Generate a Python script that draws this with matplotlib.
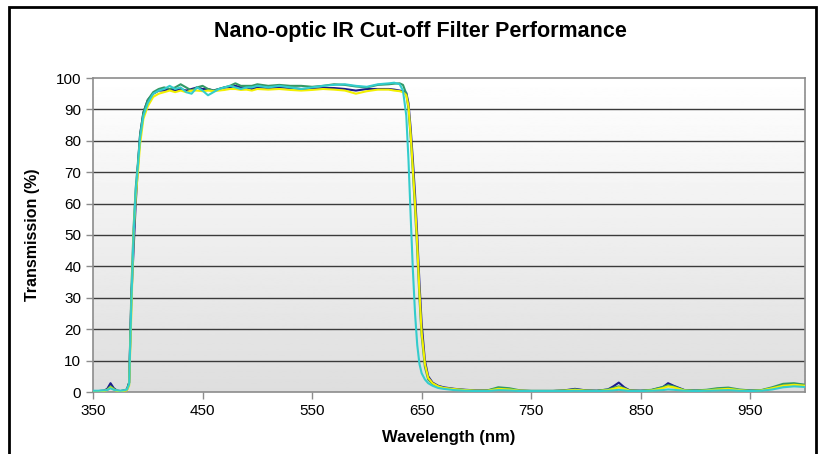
import matplotlib.pyplot as plt
import numpy as np
from matplotlib.patches import Rectangle

plt.rcParams['font.family'] = ['Liberation Sans', 'DejaVu Sans']

# wavelength grid (nm), shared by all four curves
wavelength = [350, 355, 360, 363, 366, 369, 372, 375,
              378, 381, 383, 385, 387, 389, 391, 393, 396, 400,
              405, 410, 415, 420, 425, 430, 435, 440, 445, 450,
              455, 460, 465, 470, 475, 480, 485, 490, 495, 500,
              510, 520, 530, 540, 550, 560, 570, 580, 590, 600, 610, 620, 625,
              630, 633, 636, 638, 640, 642, 644, 646, 648, 650, 653, 656, 660,
              665, 670, 680, 690, 700,
              710, 720, 730, 740, 750, 760, 770, 780, 790, 800, 810, 820, 825,
              830, 835, 840, 850, 860, 870, 875, 880, 890, 900, 910, 920, 930,
              940, 950, 960, 970, 980, 990, 1000]

trans_blue = [0.3, 0.3, 0.4, 1.0, 2.8, 1.2, 0.4, 0.3,
              0.4, 0.8, 3, 30, 45, 60, 72, 82, 89, 93,
              95, 96, 96, 96.5, 96, 96.5, 96, 96.5, 97, 96.5,
              96.5, 96, 96.5, 97, 97, 97.5, 97, 97, 96.5, 97,
              96.8, 97, 96.8, 96.5, 96.5, 96.8, 96.8, 96.5, 96, 96.5, 96.5, 96.5, 96.3,
              96, 95.8, 95.3, 92, 84, 74, 63, 50, 35, 22, 10, 5, 3,
              2, 1.5, 1.0, 0.7, 0.5,
              0.5, 1.0, 0.8, 0.4, 0.3, 0.3, 0.3, 0.5, 1.0, 0.5, 0.4, 0.8, 1.8,
              3.0, 1.5, 0.5, 0.4, 0.6, 1.5, 2.8, 2.0, 0.6, 0.4, 0.5, 0.8, 1.0,
              0.6, 0.4, 0.5, 1.2, 2.0, 2.5, 2.2]

trans_yellow = [0.2, 0.2, 0.3, 0.6, 1.5, 0.8, 0.3, 0.2,
                0.3, 0.6, 2, 25, 50, 62, 70, 79, 87, 91,
                94, 95, 95.5, 96, 95.5, 96, 95.5, 96, 96, 95.8,
                96, 95.8, 96, 96.2, 96.5, 96.5, 96.2, 96.3, 96, 96.5,
                96.3, 96.5, 96.2, 96, 96.2, 96.5, 96.3, 96, 95, 95.8, 96.3, 96.3, 96,
                95.8, 95.5, 94.5, 91, 82, 71, 60, 47, 32, 19, 9, 4.5, 2.8,
                1.8, 1.3, 0.9, 0.6, 0.4,
                0.4, 1.0, 0.8, 0.4, 0.3, 0.3, 0.3, 0.4, 0.7, 0.4, 0.3, 0.6, 1.0,
                1.5, 1.0, 0.4, 0.3, 0.5, 1.2, 1.8, 1.5, 0.5, 0.3, 0.5, 0.8, 1.0,
                0.6, 0.3, 0.5, 1.2, 2.0, 2.3, 2.0]

trans_green = [0.3, 0.3, 0.4, 0.8, 1.8, 1.0, 0.4, 0.3,
               0.5, 0.8, 3, 32, 52, 65, 73, 82, 89, 93,
               95.5, 96.5, 97, 96.5, 97, 98, 97, 96, 97, 97.5,
               96.5, 96, 96.5, 97, 97.5, 98.3, 97.5, 97.5, 97.5, 98,
               97.5, 97.8, 97.5, 97.5, 97.2, 97.5, 98, 97.8, 97.3, 97, 97.8, 98, 98.2,
               98.3, 97.8, 95, 90, 81, 70, 58, 45, 30, 18, 8, 4, 2.6,
               1.8, 1.3, 0.9, 0.6, 0.4,
               0.5, 1.5, 1.2, 0.5, 0.4, 0.4, 0.4, 0.5, 0.8, 0.5, 0.4, 0.8, 1.3,
               1.8, 1.2, 0.5, 0.4, 0.7, 1.6, 2.2, 1.8, 0.6, 0.5, 0.7, 1.2, 1.4,
               0.8, 0.5, 0.6, 1.5, 2.6, 2.8, 2.3]

trans_cyan = [0.4, 0.4, 0.5, 0.6, 1.2, 0.7, 0.5, 0.4,
              0.5, 0.8, 2.5, 28, 50, 64, 72, 81, 88, 92,
              95, 96, 96.5, 97.5, 96.5, 97, 95.5, 95, 97, 96,
              94.5, 95.5, 96.5, 97, 97.5, 97, 96.5, 97, 97, 97.5,
              97, 97.5, 97, 96.5, 97, 97.5, 97.8, 98, 97.5, 97.2, 98, 98.3, 98.5,
              98, 96, 88, 74, 56, 39, 25, 15, 9, 6, 4, 2.8, 2,
              1.3, 1.0, 0.6, 0.4, 0.3,
              0.3, 0.6, 0.5, 0.3, 0.3, 0.3, 0.3, 0.3, 0.4, 0.3, 0.3, 0.4, 0.5,
              0.7, 0.5, 0.3, 0.3, 0.4, 0.6, 0.8, 0.7, 0.4, 0.3, 0.4, 0.5, 0.6,
              0.4, 0.3, 0.4, 0.8, 1.5, 1.8, 1.6]

fig = plt.figure(figsize=(8.21, 4.54), dpi=100)
ax = fig.add_axes([93 / 821, 62 / 454, 712 / 821, 314 / 454])

# white-to-grey background gradient
grad = np.linspace(0.87, 1.0, 256).reshape(-1, 1)
ax.imshow(grad, extent=[0, 1, 0, 1], transform=ax.transAxes, cmap='gray',
          vmin=0, vmax=1, aspect='auto', origin='lower', zorder=0)

for yv in range(10, 100, 10):
    ax.axhline(yv, color='#3a3a3a', lw=1.0, zorder=1)

ax.plot(wavelength, trans_blue, color='#1c1c8c', lw=1.5, zorder=3)
ax.plot(wavelength, trans_green, color='#339966', lw=1.5, zorder=3)
ax.plot(wavelength, trans_yellow, color='#f2f000', lw=1.5, zorder=3)
ax.plot(wavelength, trans_cyan, color='#33cccc', lw=1.5, zorder=3)

ax.set_xlim(350, 1000)
ax.set_ylim(0, 100)
ax.set_xticks(range(350, 1000, 100))
ax.set_yticks(range(0, 101, 10))
for s in ax.spines.values():
    s.set_color('#8c8c8c')
    s.set_linewidth(1.2)
ax.tick_params(colors='#8c8c8c', labelcolor='black', labelsize=11, length=5, width=1)

ax.set_xlabel('Wavelength (nm)', fontsize=12, fontweight='bold', labelpad=9)
ax.set_ylabel('Transmission (%)', fontsize=11.5, fontweight='bold', labelpad=11)
fig.text(420 / 821, 1 - 31 / 454, 'Nano-optic IR Cut-off Filter Performance',
         ha='center', va='center', fontsize=15.5, fontweight='bold')

fig.patches.append(Rectangle((9 / 821, -0.05), 807 / 821, 1.05 - 7 / 454,
                             transform=fig.transFigure, fill=False,
                             edgecolor='black', lw=2))

fig.savefig('out.png', dpi=100)
